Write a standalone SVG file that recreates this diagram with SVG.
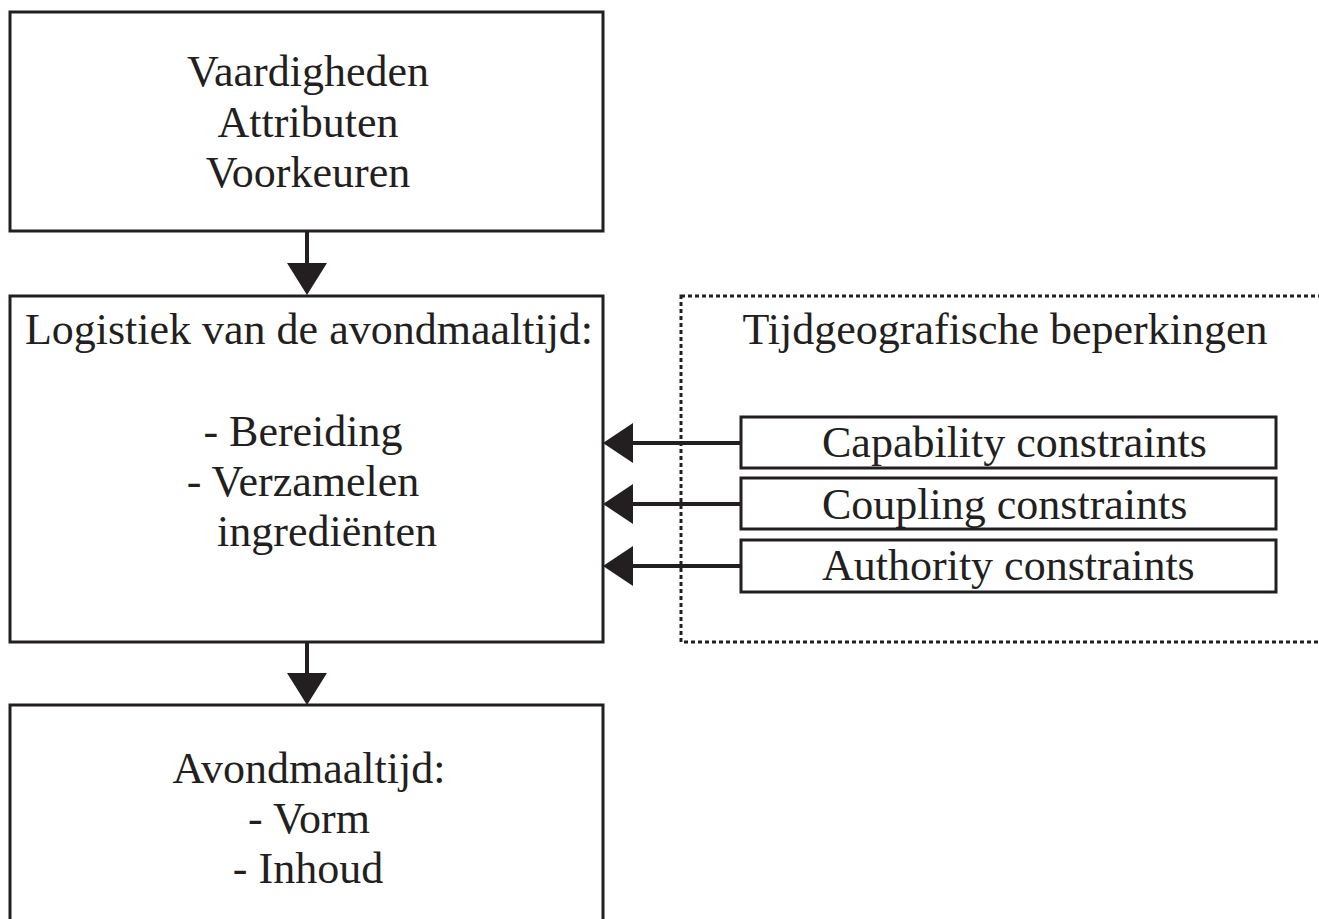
<svg xmlns="http://www.w3.org/2000/svg" width="1319" height="919" viewBox="0 0 1319 919">
<style>
.box{fill:#fff;stroke:#231f20;stroke-width:3}
.cbox{fill:#fff;stroke:#231f20;stroke-width:3}
.t{font-family:"Liberation Serif","Times New Roman",serif;font-size:44px;fill:#231f20}
.m{text-anchor:middle}
.ln{stroke:#231f20;stroke-width:4;fill:none}
.hd{fill:#231f20}
</style>
<rect width="1319" height="919" fill="#fff"/>
<g id="tijdgeo">
<rect x="681" y="296" width="660" height="346" fill="none" stroke="#231f20" stroke-width="3" stroke-dasharray="4 3"/>
<text class="t m" x="1005" y="344">Tijdgeografische beperkingen</text>
</g>
<g id="top">
<rect class="box" x="10" y="12" width="593" height="219"/>
<text class="t m" x="308" y="86">Vaardigheden</text>
<text class="t m" x="308" y="137">Attributen</text>
<text class="t m" x="308" y="187">Voorkeuren</text>
</g>
<g id="logistiek">
<rect class="box" x="10" y="296" width="593" height="346"/>
<text class="t m" x="309" y="344">Logistiek van de avondmaaltijd:</text>
<text class="t m" x="303" y="446">- Bereiding</text>
<text class="t m" x="303" y="496">- Verzamelen</text>
<text class="t m" x="327" y="546">ingrediënten</text>
</g>
<g id="avond">
<rect class="box" x="10" y="705" width="593" height="240"/>
<text class="t m" x="309" y="783">Avondmaaltijd:</text>
<text class="t m" x="309" y="833">- Vorm</text>
<text class="t m" x="308" y="883">- Inhoud</text>
</g>
<g id="capability">
<rect class="cbox" x="741" y="417" width="535" height="51"/>
<text class="t" x="822" y="457">Capability constraints</text>
</g>
<g id="coupling">
<rect class="cbox" x="741" y="478" width="535" height="51"/>
<text class="t" x="822" y="519">Coupling constraints</text>
</g>
<g id="authority">
<rect class="cbox" x="741" y="540" width="535" height="52"/>
<text class="t" x="822" y="580">Authority constraints</text>
</g>
<g id="connectors">
<line class="ln" x1="307" y1="231" x2="307" y2="266"/>
<polygon class="hd" points="287,263 327,263 307,295"/>
<line class="ln" x1="307" y1="642" x2="307" y2="676"/>
<polygon class="hd" points="287,673 327,673 307,705"/>
<line class="ln" x1="741" y1="443" x2="630" y2="443"/>
<polygon class="hd" points="633,423 633,463 603,443"/>
<line class="ln" x1="741" y1="504" x2="630" y2="504"/>
<polygon class="hd" points="633,484 633,524 603,504"/>
<line class="ln" x1="741" y1="566" x2="630" y2="566"/>
<polygon class="hd" points="633,546 633,586 603,566"/>
</g>
</svg>
